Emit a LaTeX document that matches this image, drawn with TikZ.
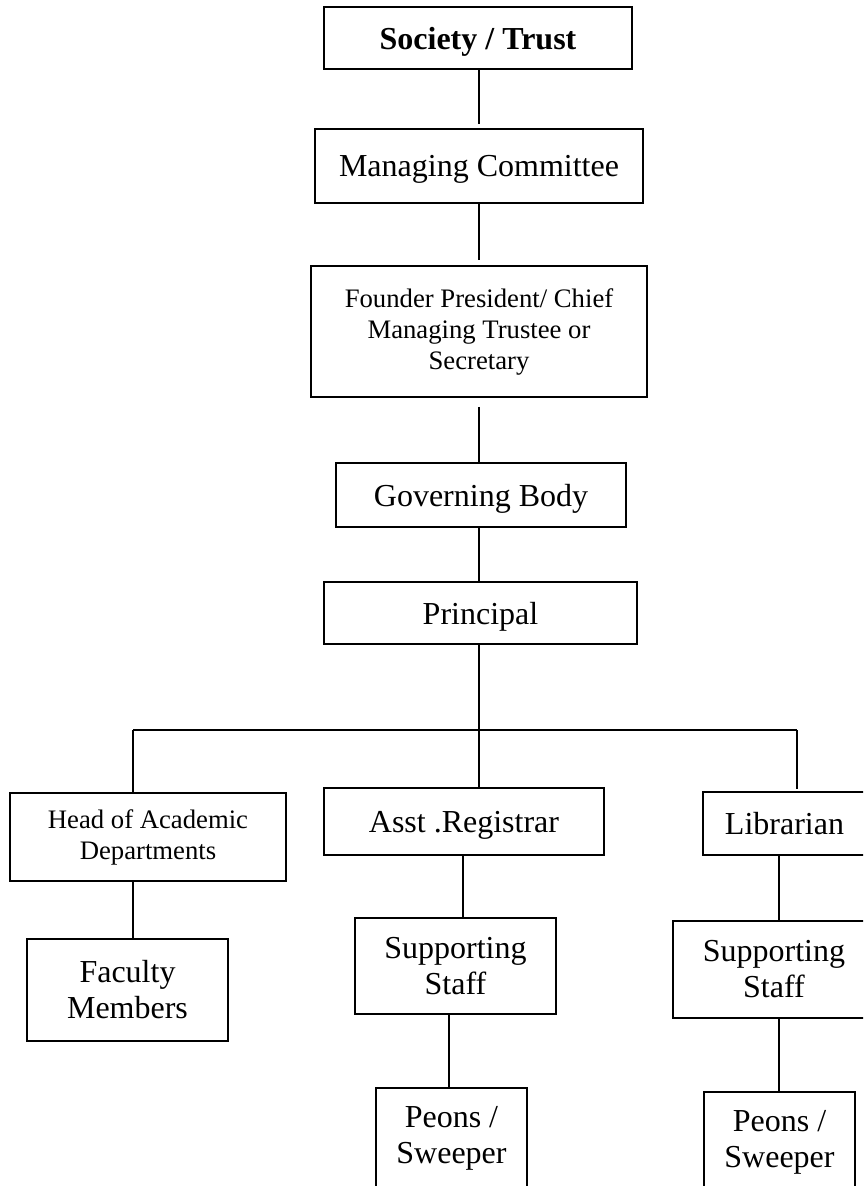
\documentclass[tikz,border=0pt]{standalone}
\usepackage{fontspec}
\setmainfont{Liberation Serif}
\begin{document}
\begin{tikzpicture}[x=1pt,y=-1pt,
  box/.style={draw,line width=1.9pt,inner sep=0pt,align=center,
    font=\fontsize{32}{36}\selectfont},
  onebox/.style={box,text depth=0pt},
  smallbox/.style={box,font=\fontsize{26.7}{31}\selectfont},
  link/.style={line width=1.5pt}]
\useasboundingbox (0,0) rectangle (863,1186);
\clip (0,0) rectangle (863,1186);
\fill[white] (0,0) rectangle (863,1186);

\node[onebox,minimum width=308pt,minimum height=62pt,font=\fontsize{32}{36}\selectfont\bfseries] (soc) at (478,38) {Society / Trust};
\node[onebox,minimum width=328pt,minimum height=74pt] (man) at (479,166) {Managing Committee};
\node[smallbox,minimum width=336pt,minimum height=131pt] (fou) at (479,331.5) {Founder President/ Chief\\Managing Trustee or\\Secretary};
\node[onebox,minimum width=290pt,minimum height=64pt] (gov) at (481,495) {Governing Body};
\node[onebox,minimum width=313pt,minimum height=62pt] (pri) at (480.5,613) {Principal};

\node[smallbox,minimum width=276pt,minimum height=88pt] (head) at (148,837) {Head of Academic\\Departments};
\node[box,minimum width=201pt,minimum height=102pt] (fac) at (127.5,990) {Faculty\\Members};
\node[onebox,minimum width=280pt,minimum height=67pt] (asst) at (464,821.5) {Asst .Registrar};
\node[onebox,minimum width=163pt,minimum height=63pt] (lib) at (784.5,823.5) {Librarian};
\node[box,minimum width=201pt,minimum height=96pt] (sup1) at (455.5,966) {Supporting\\Staff};
\node[box,minimum width=202pt,minimum height=97pt] (sup2) at (774,969.5) {Supporting\\Staff};
\node[box,minimum width=151pt,minimum height=100pt] (peo1) at (451.5,1138) {Peons /\\Sweeper};
\node[box,minimum width=151pt,minimum height=100pt] (peo2) at (779.5,1142) {Peons /\\Sweeper};

\coordinate (bus) at (479,730);
\coordinate (busL) at (133,730);
\coordinate (busR) at (797,730);
\coordinate (xA) at (463,0);
\coordinate (xB) at (449,0);
\coordinate (xC) at (779,0);

\draw[link,shorten >=4pt] (soc.south -| bus) -- (man.north -| bus);
\draw[link,shorten >=5pt] (man.south -| bus) -- (fou.north -| bus);
\draw[link,shorten <=9pt] (fou.south -| bus) -- (gov.north -| bus);
\draw[link] (gov.south -| bus) -- (pri.north -| bus);
\draw[link] (pri.south -| bus) -- (bus);
\draw[link] (busL) -- (busR);
\draw[link] (busL) -- (busL |- head.north);
\draw[link] (bus) -- (bus |- asst.north);
\draw[link,shorten >=2pt] (busR) -- (busR |- lib.north);
\draw[link] (head.south -| busL) -- (fac.north -| busL);
\draw[link] (asst.south -| xA) -- (sup1.north -| xA);
\draw[link] (sup1.south -| xB) -- (peo1.north -| xB);
\draw[link] (lib.south -| xC) -- (sup2.north -| xC);
\draw[link] (sup2.south -| xC) -- (peo2.north -| xC);
\end{tikzpicture}
\end{document}
